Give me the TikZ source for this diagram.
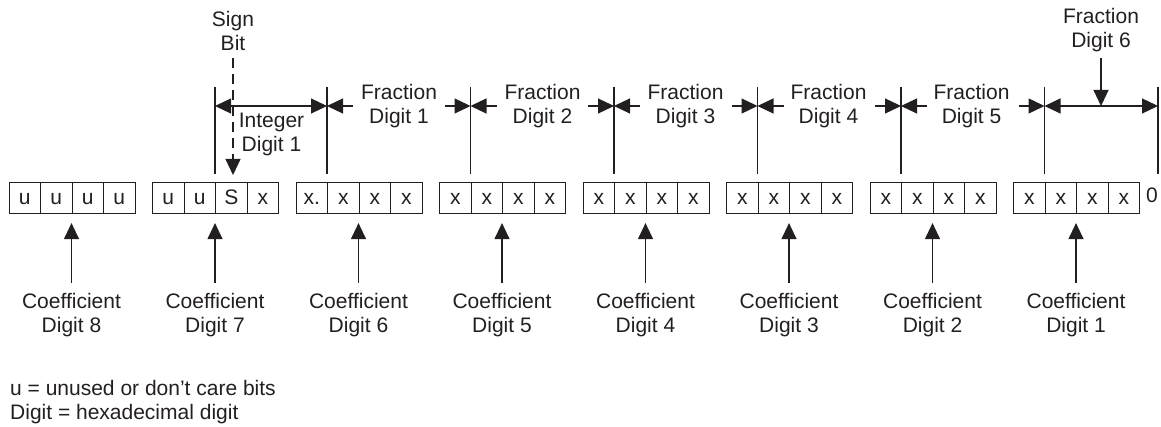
\documentclass[tikz,border=0pt]{standalone}
\usepackage{fontspec}
\setmainfont{Liberation Sans}[Ligatures={NoCommon}]
\usetikzlibrary{arrows.meta}
\definecolor{ink}{HTML}{231F20}
\begin{document}
\begin{tikzpicture}[x=1pt,y=-1pt,
  every node/.style={font=\fontsize{21}{24}\selectfont, text=ink, inner sep=0pt},
  cell/.style={draw=ink, line width=1.1pt, minimum width=31.5pt, minimum height=31pt,
               text height=12pt, text depth=0pt, anchor=north west},
  lbl/.style={align=center, anchor=base},
  ln/.style={draw=ink, line width=1.2pt},
  tip/.style={-{Triangle[length=16pt,width=15pt]}},
  tips/.style={{Triangle[length=16pt,width=15pt]}-{Triangle[length=16pt,width=15pt]}}
]
\useasboundingbox (0,0) rectangle (1161,427);

% cells
\foreach \i/\a/\b/\c/\d in {0/u/u/u/u, 1/u/u/S/x, 2/x./x/x/x, 3/x/x/x/x,
                            4/x/x/x/x, 5/x/x/x/x, 6/x/x/x/x, 7/x/x/x/x} {
  \node[cell] (c-\i-0) at ({8.5+143.5*\i},182) {\a};
  \node[cell] (c-\i-1) at ({8.5+143.5*\i+31.5},182) {\b};
  \node[cell] (c-\i-2) at ({8.5+143.5*\i+63},182) {\c};
  \node[cell] (c-\i-3) at ({8.5+143.5*\i+94.5},182) {\d};
}
\node[anchor=base] (zero) at (1152,203) {0};

% coefficient labels and arrows
\foreach \i/\k in {0/8,1/7,2/6,3/5,4/4,5/3,6/2,7/1} {
  \node[lbl] (coef-\i) at (c-\i-2.south west |- 0,332) {Coefficient\\Digit \k};
  \coordinate (cb-\i) at (c-\i-2.south west |- 0,283);
  \draw[ln,tip] (cb-\i) -- ([yshift=-9pt]c-\i-2.south west);
}

% vertical boundary lines
\foreach \n/\c in {0/c-1-2, 1/c-2-1, 2/c-3-1, 3/c-4-1, 4/c-5-1, 5/c-6-1, 6/c-7-1} {
  \coordinate (top\n) at (\c.north west |- 0,87);
  \coordinate (bot\n) at (\c.north west |- 0,174);
  \coordinate (dim\n) at (\c.north west |- 0,106);
}
\coordinate (top7) at (1158,87);
\coordinate (bot7) at (1158,174);
\coordinate (dim7) at (1158,106);
\foreach \n in {0,...,7} { \draw[ln] (top\n) -- (bot\n); }

% integer digit 1
\draw[ln,tips] (dim0) -- (dim1);
\node[lbl] (int1) at (271.5,152) {Integer\\Digit 1};

% fraction digits 1..5
\foreach \k/\kk/\x in {1/2/399, 2/3/542.5, 3/4/685.5, 4/5/828.5, 5/6/971.5} {
  \draw[ln,tip] ([xshift=26pt]dim\k) -- (dim\k);
  \draw[ln,tip] ([xshift=-26pt]dim\kk) -- (dim\kk);
  \node[lbl] (frac\k) at (\x,124) {Fraction\\Digit \k};
}

% fraction digit 6
\draw[ln,tips] (dim6) -- (dim7);
\node[lbl] (frac6) at (1101,48) {Fraction\\Digit 6};
\coordinate (f6top) at (1101,58);
\draw[ln,tip] (f6top) -- (f6top |- dim6);

% sign bit
\node[lbl] (sign) at (233,51) {Sign\\Bit};
\coordinate (sbtop) at (233,58);
\draw[ln,tip,dash pattern=on 10pt off 6pt] (sbtop) -- ([yshift=7pt]sbtop |- c-1-2.north);

% legend
\node[anchor=base west] (leg1) at (10,395) {u = unused or don’t care bits};
\node[anchor=base west] (leg2) at (10,419) {Digit = hexadecimal digit};
\end{tikzpicture}
\end{document}
